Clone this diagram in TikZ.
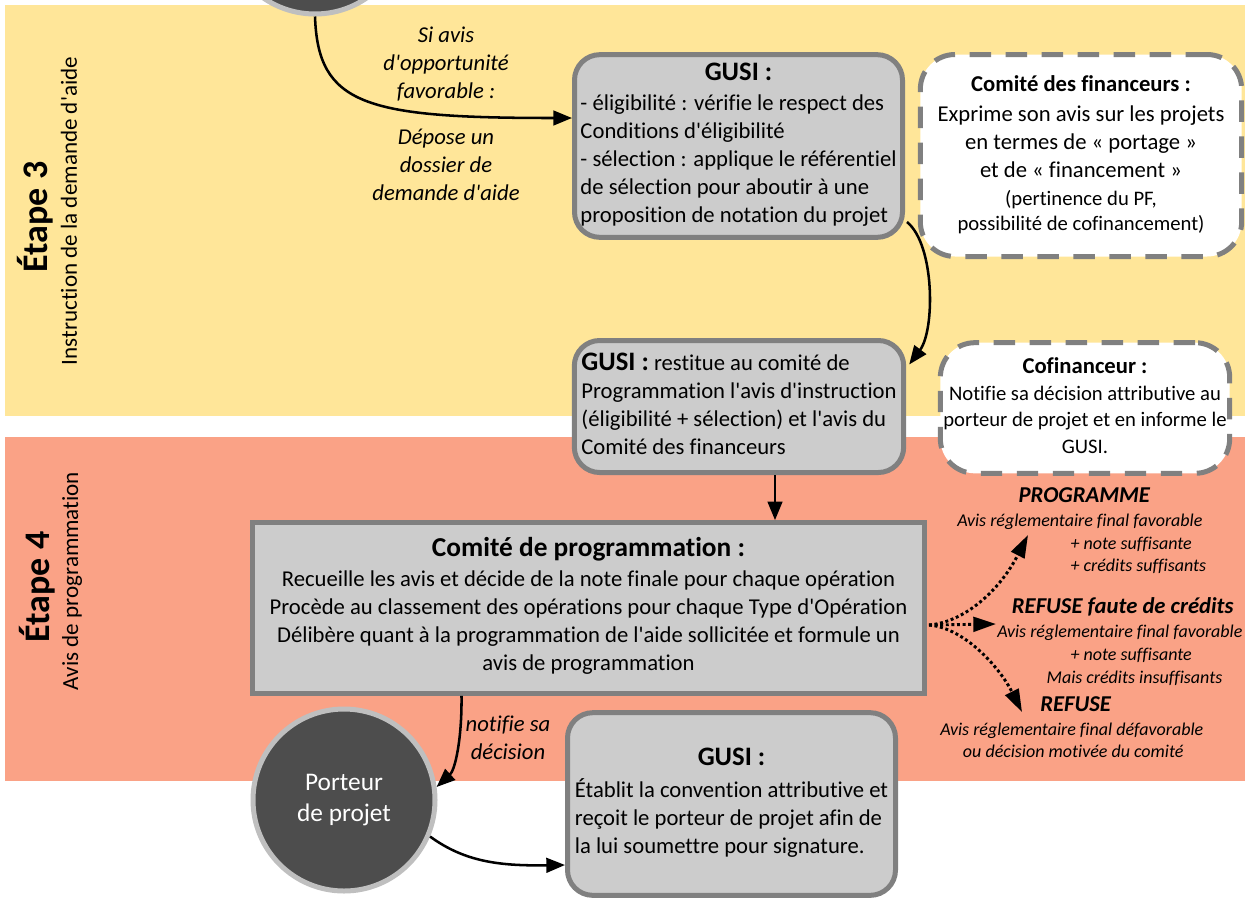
\documentclass[tikz,border=0pt]{standalone}
\usepackage{fontspec}
\defaultfontfeatures[\rmfamily]{}
\setmainfont{Carlito}[Ligatures=NoCommon]
\usepackage{tikz}
\usetikzlibrary{arrows.meta,calc}

\definecolor{jauneEtape}{RGB}{255,230,153}
\definecolor{saumonEtape}{RGB}{250,162,134}
\definecolor{fondBoite}{RGB}{204,204,204}
\definecolor{bordBoite}{RGB}{128,128,128}
\definecolor{porteurFond}{RGB}{77,77,77}
\definecolor{porteurBord}{RGB}{191,191,191}

\newcommand\txtcorps{\fontsize{17}{21}\selectfont}
\newcommand\txttitre{\fontsize{20}{24}\selectfont\bfseries}
\newcommand\txtcomite{\fontsize{20.5}{25}\selectfont\bfseries}
\newcommand\txtpetit{\fontsize{15.5}{19}\selectfont}
\newcommand\txtcofi{\fontsize{15.5}{20}\selectfont}
\newcommand\txtetape{\fontsize{27}{32}\selectfont\bfseries}
\newcommand\txtsous{\fontsize{17.3}{21}\selectfont}
\newcommand\txtetiquette{\fontsize{17}{21}\selectfont\itshape}
\newcommand\txtissue{\fontsize{13.5}{17}\selectfont\itshape}
\newcommand\txtissuetitre{\fontsize{17}{20}\selectfont\bfseries\itshape}

\tikzset{
  gusibox/.style={draw=bordBoite, fill=fondBoite, line width=3.75pt, rounded corners=19pt, inner sep=0pt, font=\txtcorps},
  comitebox/.style={draw=bordBoite, fill=fondBoite, line width=3.75pt, inner sep=0pt, font=\txtcorps},
  dashbox/.style={draw=bordBoite, fill=white, line width=3.75pt, dash pattern=on 16pt off 11pt, rounded corners=26pt, inner sep=0pt, font=\txtcorps},
  porteur/.style={circle, draw=porteurBord, fill=porteurFond, line width=3.75pt, minimum size=136.5pt, inner sep=0pt, text=white, align=center, font=\fontsize{19}{23}\selectfont},
  etiquette/.style={align=center, inner sep=0pt, font=\txtetiquette},
  issue/.style={inner sep=0pt, font=\txtissue},
  flow/.style={-{Triangle[length=14pt,width=11pt]}, line width=1.9pt},
  choix/.style={-{Triangle[length=17pt,width=11pt]}, line width=2.2pt, dash pattern=on 2.2pt off 2pt},
}

\begin{document}
\begin{tikzpicture}[x=0.75pt,y=0.75pt,yscale=-1,xscale=1]
\useasboundingbox (0,0) rectangle (1256,900);
\clip (0,0) rectangle (1256,900);

%Shape: Rectangle [etape 3]
\fill[jauneEtape] (5,5) rectangle (1245,416);
%Shape: Rectangle [etape 4]
\fill[saumonEtape] (5,437) rectangle (1245,781);

% Text Node
\node (etapeTrois) [rotate=90, font=\txtetape] at (35,217) {Étape 3};
% Text Node
\node (etapeTroisSous) [rotate=90, font=\txtsous] at (69,211) {Instruction de la demande d'aide};
% Text Node
\node (etapeQuatre) [rotate=90, font=\txtetape] at (37,587) {Étape 4};
% Text Node
\node (etapeQuatreSous) [rotate=90, font=\txtsous] at (72,581) {Avis de programmation};

%Shape: Circle [porteur en haut]
\node (porteurA) [porteur] at (315,-77) {};
%Shape: Circle [porteur en bas]
\node (porteurB) [porteur] at (344,800) {Porteur\\de projet};

%Rounded Rect [GUSI instruction]
\node (gusiA) [gusibox, minimum width=246pt, minimum height=137pt] at (738.5,146)
  {\begin{tabular}{@{}l@{}}
   \multicolumn{1}{@{}c@{}}{\txttitre GUSI :}\\[1pt]
   - éligibilité : vérifie le respect des\\
   Conditions d'éligibilité\\
   - sélection : applique le référentiel\\
   de sélection pour aboutir à une\\
   proposition de notation du projet
  \end{tabular}};

%Rounded Rect [comite des financeurs]
\node (financeurs) [dashbox, minimum width=241pt, minimum height=151.5pt] at (1081,155.5)
  {\begin{tabular}{@{}c@{}}
   \textbf{Comité des financeurs :}\\[1pt]
   Exprime son avis sur les projets\\
   en termes de « portage »\\
   et de « financement »\\
   {\txtpetit (pertinence du PF,}\\[-2pt]
   {\txtpetit possibilité de cofinancement)}
  \end{tabular}};

%Rounded Rect [GUSI restitution]
\node (gusiB) [gusibox, minimum width=247pt, minimum height=99pt] at (739,406.5)
  {\begin{tabular}{@{}l@{}}
   {\txttitre GUSI :} restitue au comité de\\
   Programmation l'avis d'instruction\\
   (éligibilité + sélection) et l'avis du\\
   Comité des financeurs
  \end{tabular}};

%Rounded Rect [cofinanceur]
\node (cofinanceur) [dashbox, font=\txtcofi, minimum width=217pt, minimum height=98pt] at (1085,408)
  {\begin{tabular}{@{}c@{}}
   {\fontsize{17}{20}\selectfont\bfseries Cofinanceur :}\\
   Notifie sa décision attributive au\\
   porteur de projet et en informe le\\
   GUSI.
  \end{tabular}};

%Shape: Rectangle [comite de programmation]
\node (progCom) [comitebox, minimum width=504pt, minimum height=128pt] at (588.5,608)
  {\begin{tabular}{@{}c@{}}
   {\txtcomite Comité de programmation :}\\[2pt]
   Recueille les avis et décide de la note finale pour chaque opération\\
   Procède au classement des opérations pour chaque Type d'Opération\\
   Délibère quant à la programmation de l'aide sollicitée et formule un\\
   avis de programmation
  \end{tabular}};

%Rounded Rect [GUSI convention]
\node (gusiC) [gusibox, minimum width=246pt, minimum height=137pt] at (731.5,804)
  {\begin{tabular}{@{}l@{}}
   \multicolumn{1}{@{}c@{}}{\txttitre GUSI :}\\[3pt]
   Établit la convention attributive et\\
   reçoit le porteur de projet afin de\\
   la lui soumettre pour signature.
  \end{tabular}};

% Text Node
\node (avisFavorable) [etiquette] at (446,64) {Si avis\\d'opportunité\\favorable :};
% Text Node
\node (depotDossier) [etiquette] at (446,165) {Dépose un\\dossier de\\demande d'aide};
% Text Node
\node (notifieDecision) [etiquette] at (508,738) {notifie sa\\décision};

% Text Node
\node (issueProg) [issue, anchor=west] at (957,532.5)
  {\begin{tabular}{@{}l@{}}
   \hspace*{46pt}{\txtissuetitre PROGRAMME}\\[1pt]
   Avis réglementaire final favorable\\
   \hspace*{85pt}+ note suffisante\\
   \hspace*{85pt}+ crédits suffisants
  \end{tabular}};
% Text Node
\node (issueCredits) [issue, anchor=west] at (997,644)
  {\begin{tabular}{@{}l@{}}
   \hspace*{11pt}{\txtissuetitre REFUSE faute de crédits}\\[1pt]
   Avis réglementaire final favorable\\
   \hspace*{55pt}+ note suffisante\\
   \hspace*{37pt}Mais crédits insuffisants
  \end{tabular}};
% Text Node
\node (issueRefus) [issue, anchor=west] at (940,730)
  {\begin{tabular}{@{}l@{}}
   \hspace*{75pt}{\txtissuetitre REFUSE}\\[1pt]
   Avis réglementaire final défavorable\\
   \hspace*{17pt}ou décision motivée du comité
  \end{tabular}};

%Curve Lines [depot du dossier]
\draw[flow] (porteurA.south) .. controls (318,105) and (365,118) .. ($(gusiA.west)+(0,-28)$);
%Curve Lines [vers restitution]
\draw[flow] ($(gusiA.east)+(2,76)$) .. controls (935,245) and (935,330) .. ($(gusiB.east)+(3,-42)$);
%Straight Lines [vers comite]
\coordinate (descente) at ($(gusiB.south)+(36,0)$);
\draw[flow] (descente) -- (descente |- progCom.north);

%Curve Lines [issues du comite]
\coordinate (fourche) at ($(progCom.east)+(2,17)$);
\coordinate (versProg) at (1028,535);
\coordinate (versCredits) at (996,624);
\coordinate (versRefus) at (1022,712);
\draw[choix] (fourche) .. controls (965,622) and (1000,590) .. (versProg);
\draw[choix] (fourche) -- (versCredits);
\draw[choix] (fourche) .. controls (965,628) and (1000,668) .. (versRefus);

%Curve Lines [notification]
\draw[flow] ($(progCom.south)+(-127,0)$) .. controls (462,740) and (455,770) .. (porteurB.8);
%Curve Lines [vers convention]
\draw[flow] (porteurB.-23) .. controls (465,862) and (500,866) .. ($(gusiC.west)+(0,61)$);

\end{tikzpicture}
\end{document}
